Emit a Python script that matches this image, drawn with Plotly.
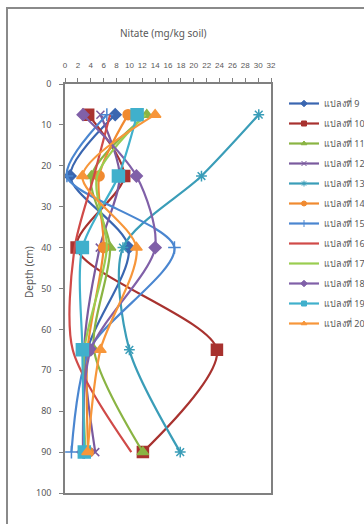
import plotly.graph_objects as go

depth = [7.5, 22.5, 40, 65, 90]
names = ["แปลงที่ 9", "แปลงที่ 10", "แปลงที่ 11", "แปลงที่ 12", "แปลงที่ 13", "แปลงที่ 14",
         "แปลงที่ 15", "แปลงที่ 16", "แปลงที่ 17", "แปลงที่ 18", "แปลงที่ 19", "แปลงที่ 20"]
s9 = [7.8, 0.8, 9.9, 3.5, 3.0]
s10 = [3.6, 9.2, 1.8, 23.6, 12.1]
s11 = [12.7, 4.1, 7.0, 4.5, 12.1]
s12 = [5.5, 8.5, 5.4, 3.0, 4.7]
s13 = [30.1, 21.2, 9.0, 10.0, 17.9]
s14 = [9.8, 5.3, 6.0, 3.5, 3.6]
s15 = [6.5, 0.3, 17.0, 3.8, 1.0]
s16 = [7.0, 4.5, 1.5, 1.2, 10.3]
s17 = [12.5, 5.0, 6.5, 3.0, 3.2]
s18 = [2.8, 11.1, 14.0, 4.0, 2.8]
s19 = [11.2, 8.3, 2.7, 2.7, 3.0]
s20 = [14.0, 2.7, 11.1, 5.5, 3.5]
series = [s9, s10, s11, s12, s13, s14, s15, s16, s17, s18, s19, s20]

colors = ["#3A66B0", "#A8322F", "#8AB443", "#7A5A9E", "#3A9DB8", "#F08A30",
          "#4A86D0", "#D04A48", "#9ACD50", "#8060A8", "#40B0CC", "#F7963A"]
symbols = ["diamond", "square", "triangle-up", "x-thin-open", "asterisk-open", "circle",
           "cross-thin-open", None, None, "diamond", "square", "triangle-up"]
sizes = [9, 11, 10, 8, 9, 10, 9, 0, 0, 9, 12, 10]

fig = go.Figure()
for i, (nm, vals, c, sym, sz) in enumerate(zip(names, series, colors, symbols, sizes)):
    line = dict(color=c, width=2.2, shape="spline", smoothing=0.8)
    if sym is None:
        fig.add_trace(go.Scatter(x=vals, y=depth, mode="lines", name=nm,
                                 showlegend=False, line=line))
        fig.add_trace(go.Scatter(x=[None], y=[None], mode="lines", name=nm,
                                 legendgroup=f"g{i}", line=dict(color=c, width=2.2)))
    else:
        fig.add_trace(go.Scatter(x=vals, y=depth, mode="lines+markers", name=nm,
                                 showlegend=False, line=line,
                                 marker=dict(symbol=sym, size=sz, color=c,
                                             line=dict(color=c, width=1.5))))
        fig.add_trace(go.Scatter(x=[None], y=[None], mode="lines+markers", name=nm,
                                 legendgroup=f"g{i}", line=dict(color=c, width=2.2),
                                 marker=dict(symbol=sym, size=5, color=c,
                                             line=dict(color=c, width=1))))

L, R, T, B = 65, 271, 84, 493
W, H = 364, 524
pw, ph = R - L, B - T

def px_x(p):
    return (p - L) / pw

def px_y(p):
    return (B - p) / ph

fig.add_shape(type="rect", xref="paper", yref="paper",
              x0=px_x(7), x1=px_x(372), y0=px_y(8), y1=px_y(530),
              line=dict(color="#8a8a8a", width=2), fillcolor="rgba(0,0,0,0)", layer="below")

fig.add_annotation(text="Nitate (mg/kg soil)", xref="paper", yref="paper",
                   x=px_x(163), y=px_y(33), xanchor="center", yanchor="middle",
                   showarrow=False, font=dict(size=10, color="#595959"))
fig.add_annotation(text="Depth (cm)", xref="paper", yref="paper",
                   x=px_x(29), y=px_y(272), xanchor="center", yanchor="middle",
                   textangle=-90, showarrow=False, font=dict(size=10, color="#595959"))

fig.update_layout(
    width=W, height=H,
    margin=dict(l=L, r=W - R, t=T, b=H - B, autoexpand=False),
    paper_bgcolor="white", plot_bgcolor="white",
    font=dict(family="Noto Sans, DejaVu Sans, sans-serif", color="#595959", size=9),
    showlegend=True,
    legend=dict(xref="container", yref="container", x=284 / W, y=1 - 89 / H,
                xanchor="left", yanchor="top",
                font=dict(size=9, color="#595959"), itemwidth=30,
                tracegroupgap=1, bgcolor="rgba(0,0,0,0)"),
    xaxis=dict(side="top", range=[0, 32], dtick=2, tick0=0, tickangle=0,
               showline=True, mirror=True, linecolor="#808080", linewidth=1.5,
               ticks="outside", ticklen=4, tickcolor="#808080",
               showgrid=False, zeroline=False, ticklabelstandoff=7,
               tickfont=dict(size=8, color="#595959", family="Liberation Sans Narrow, Liberation Sans, sans-serif")),
    yaxis=dict(range=[100, 0], dtick=10, tick0=0,
               showline=True, mirror=True, linecolor="#808080", linewidth=1.5,
               ticks="outside", ticklen=4, tickcolor="#808080",
               showgrid=False, zeroline=False, ticklabelstandoff=6,
               tickfont=dict(size=9, color="#595959")),
)

fig.write_html("out.html", config={"displayModeBar": False},
               post_script="document.body.style.margin='0';document.body.style.overflow='hidden';")
